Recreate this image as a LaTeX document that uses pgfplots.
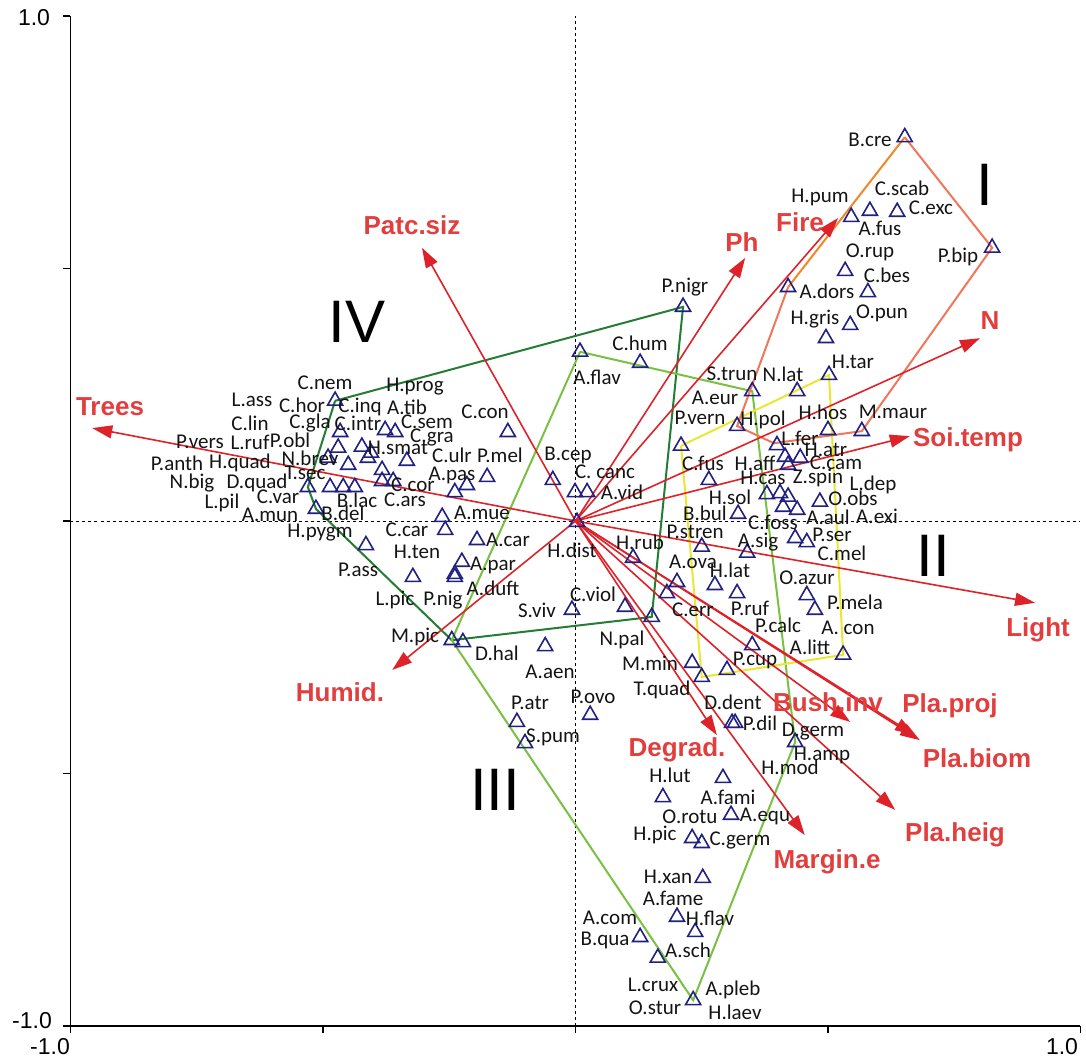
\documentclass[border=0pt]{standalone}
\usepackage{pgfplots}
\pgfplotsset{compat=1.18}
\usepackage{fontspec}
\setmainfont{Carlito}
\newfontfamily\arialf{Liberation Sans}
\usetikzlibrary{arrows.meta}
\definecolor{arrred}{RGB}{222,34,42}
\definecolor{labred}{RGB}{226,62,62}
\definecolor{navy}{RGB}{32,32,128}
\definecolor{dkgreen}{RGB}{36,125,52}
\definecolor{ltgreen}{RGB}{122,192,66}
\definecolor{yel}{RGB}{234,230,50}
\definecolor{orng}{RGB}{242,134,40}
\definecolor{salm}{RGB}{240,118,92}
\definecolor{txt}{RGB}{20,20,20}

\pgfplotstableread{
x y
0.652 0.760
0.546 0.602
0.583 0.614
0.637 0.612
0.825 0.541
0.534 0.495
0.579 0.453
0.421 0.463
0.544 0.388
0.496 0.362
0.502 0.289
0.439 0.257
0.350 0.257
0.320 0.188
0.209 0.149
0.500 0.180
0.567 0.178
0.399 0.150
0.415 0.127
0.445 0.125
0.421 0.111
0.264 0.081
0.379 0.053
0.405 0.055
0.421 0.048
0.484 0.038
0.411 0.028
0.439 0.022
0.322 0.014
0.250 -0.051
0.340 -0.063
0.435 -0.034
0.458 -0.042
0.276 -0.127
0.320 -0.143
0.458 -0.147
0.474 -0.176
0.350 -0.246
0.530 -0.265
0.300 -0.295
0.250 -0.309
0.231 -0.281
0.201 -0.121
0.181 -0.143
0.114 -0.073
0.098 -0.170
0.151 -0.190
-0.007 -0.176
0.003 -0.002
0.029 -0.384
-0.060 -0.248
-0.116 -0.398
-0.100 -0.440
0.310 -0.400
0.316 -0.400
0.435 -0.438
0.292 -0.509
0.173 -0.547
0.308 -0.582
0.231 -0.628
0.250 -0.638
0.252 -0.707
0.201 -0.784
0.237 -0.814
0.128 -0.824
0.163 -0.865
0.233 -0.949
0.213 0.424
0.009 0.335
0.128 0.313
-0.045 0.081
-0.001 0.057
0.023 0.057
-0.134 0.176
-0.175 0.087
-0.215 0.071
-0.239 0.057
-0.264 0.008
-0.258 -0.018
-0.195 -0.038
-0.225 -0.081
-0.239 -0.111
-0.239 -0.105
-0.322 -0.111
-0.415 -0.048
-0.245 -0.236
-0.223 -0.240
-0.476 0.238
-0.466 0.176
-0.470 0.145
-0.423 0.147
-0.411 0.125
-0.377 0.180
-0.357 0.176
-0.490 0.125
-0.450 0.111
-0.383 0.101
-0.334 0.119
-0.530 0.067
-0.486 0.067
-0.460 0.067
-0.437 0.067
-0.383 0.079
-0.361 0.079
-0.514 0.024
-0.405 0.135
}\species

\begin{document}
\begin{tikzpicture}
\useasboundingbox (-70.5pt,-36pt) rectangle (1015.5pt,1026pt);
\begin{axis}[
  at={(0pt,0pt)}, anchor=south west,
  width=1010pt, height=1010pt, scale only axis,
  xmin=-1, xmax=1, ymin=-1, ymax=1,
  axis x line=bottom, axis y line=left,
  axis line style={line width=1.8pt, -},
  xtick={-1,-0.5,0,0.5,1}, xticklabels={},
  ytick={-1,-0.5,0,0.5,1}, yticklabels={},
  tick align=outside, major tick length=7pt,
  tick style={line width=1.3pt, black},
  clip=false,
  arr/.style={arrred, line width=1.6pt, -{Triangle[length=20pt,width=13pt]}},
]
% zero lines
\addplot[black, line width=0.8pt, dash pattern=on 3pt off 3pt] coordinates {(0,-1) (0,1)};
\addplot[black, line width=0.8pt, dash pattern=on 3pt off 3pt] coordinates {(-1,0) (1,0)};
% group polygons
\addplot[dkgreen, line width=2pt] coordinates {(-0.476,0.238) (0.213,0.424) (0.151,-0.190) (-0.245,-0.236) (-0.514,0.024) (-0.530,0.067) (-0.476,0.238)};
\addplot[ltgreen, line width=2pt] coordinates {(0.009,0.335) (0.350,0.257) (0.435,-0.438) (0.233,-0.949) (-0.245,-0.236) (0.009,0.335)};
\addplot[yel, line width=2pt] coordinates {(0.209,0.149) (0.502,0.289) (0.530,-0.265) (0.250,-0.309) (0.209,0.149)};
\addplot[salm, line width=2pt] coordinates {(0.421,0.463) (0.320,0.188) (0.393,0.154) (0.567,0.178) (0.825,0.541) (0.652,0.760)};
\addplot[orng, line width=2pt] coordinates {(0.652,0.760) (0.421,0.463)};
% environmental arrows
\addplot[arr] coordinates {(0,0) (-0.957,0.184)};
\addplot[arr] coordinates {(0,0) (-0.304,0.541)};
\addplot[arr] coordinates {(0,0) (0.336,0.521)};
\addplot[arr] coordinates {(0,0) (0.520,0.600)};
\addplot[arr] coordinates {(0,0) (0.801,0.362)};
\addplot[arr] coordinates {(0,0) (0.662,0.168)};
\addplot[arr] coordinates {(0,0) (0.910,-0.162)};
\addplot[arr] coordinates {(0,0) (0.544,-0.398)};
\addplot[arr] coordinates {(0,0) (0.672,-0.424)};
\addplot[arr] coordinates {(0,0) (0.682,-0.434)};
\addplot[arr] coordinates {(0,0) (0.633,-0.572)};
\addplot[arr] coordinates {(0,0) (0.454,-0.622)};
\addplot[arr] coordinates {(0,0) (0.280,-0.424)};
\addplot[arr] coordinates {(0,0) (-0.363,-0.295)};
% species
\addplot[only marks, mark=triangle, mark size=8.7pt, mark options={navy, line width=1.6pt}] table[x=x,y=y] {\species};
\end{axis}

\begin{scope}[shift={(-70.5pt,1026pt)}, x=1pt, y=-1pt,
  sp/.style={text=txt, inner sep=0pt, font=\fontsize{21}{21}\selectfont},
  ev/.style={text=labred, inner sep=0pt, font=\arialf\bfseries\fontsize{26}{26}\selectfont},
  rn/.style={text=black, inner sep=0pt, font=\arialf\fontsize{60}{60}\selectfont},
  tl/.style={text=black, inner sep=0pt, font=\arialf\fontsize{23}{23}\selectfont}]
\newcommand\lb[3]{\node[sp] at (#1,#2) {#3};}
% tick labels
\node[tl] at (34,18) {1.0};
\node[tl] at (32,1021) {-1.0};
\node[tl] at (50,1047) {-1.0};
\node[tl] at (1062,1047) {1.0};
% species labels
\lb{870}{140}{B.cre}
\lb{820}{197}{H.pum}
\lb{902}{188}{C.scab}
\lb{931}{208}{C.exc}
\lb{880}{228}{A.fus}
\lb{958}{257}{P.bip}
\lb{870}{252}{O.rup}
\lb{887}{275}{C.bes}
\lb{827}{291}{A.dors}
\lb{815}{319}{H.gris}
\lb{882}{313}{O.pun}
\lb{853}{362}{H.tar}
\lb{783}{374}{N.lat}
\lb{732}{374}{S.trun}
\lb{715}{398}{A.eur}
\lb{700}{418}{P.vern}
\lb{763}{420}{H.pol}
\lb{823}{412}{H.hos}
\lb{893}{412}{M.maur}
\lb{800}{438}{L.fer}
\lb{826}{450}{H.atr}
\lb{836}{463}{C.cam}
\lb{703}{463}{C.fus}
\lb{755}{463}{H.aff}
\lb{763}{478}{H.cas}
\lb{818}{478}{Z.spin}
\lb{873}{485}{L.dep}
\lb{853}{498}{O.obs}
\lb{730}{497}{H.sol}
\lb{705}{513}{B.bul}
\lb{773}{522}{C.foss}
\lb{828}{517}{A.aul}
\lb{877}{516}{A.exi}
\lb{695}{532}{P.stren}
\lb{758}{542}{A.sig}
\lb{832}{535}{P.ser}
\lb{842}{553}{C.mel}
\lb{730}{570}{H.lat}
\lb{750}{608}{P.ruf}
\lb{807}{578}{O.azur}
\lb{855}{602}{P.mela}
\lb{848}{628}{A. con}
\lb{778}{625}{P.calc}
\lb{810}{647}{A.litt}
\lb{755}{660}{P.cup}
\lb{650}{663}{M.min}
\lb{662}{690}{T.quad}
\lb{733}{702}{D.dent}
\lb{760}{723}{P.dil}
\lb{813}{732}{D.germ}
\lb{822}{755}{H.amp}
\lb{790}{767}{H.mod}
\lb{670}{775}{H.lut}
\lb{728}{797}{A.fami}
\lb{690}{817}{O.rotu}
\lb{765}{816}{A.equ}
\lb{655}{835}{H.pic}
\lb{740}{840}{C.germ}
\lb{668}{877}{H.xan}
\lb{673}{898}{A.fame}
\lb{610}{918}{A.com}
\lb{710}{918}{H.flav}
\lb{605}{940}{B.qua}
\lb{688}{950}{A.sch}
\lb{653}{985}{L.crux}
\lb{733}{990}{A.pleb}
\lb{655}{1008}{O.stur}
\lb{735}{1012}{H.laev}
\lb{572}{550}{H.dist}
\lb{640}{542}{H.rub}
\lb{693}{562}{A.ova}
\lb{693}{610}{C.err}
\lb{593}{594}{C.viol}
\lb{537}{610}{S.viv}
\lb{622}{640}{N.pal}
\lb{593}{697}{P.ovo}
\lb{550}{672}{A.aen}
\lb{530}{703}{P.atr}
\lb{553}{737}{S.pum}
\lb{685}{287}{P.nigr}
\lb{597}{377}{A.flav}
\lb{640}{343}{C.hum}
\lb{568}{455}{B.cep}
\lb{605}{472}{C. canc}
\lb{622}{492}{A.vid}
\lb{485}{412}{C.con}
\lb{500}{455}{P.mel}
\lb{452}{455}{C.ulr}
\lb{452}{475}{A.pas}
\lb{482}{513}{A.mue}
\lb{508}{540}{A.car}
\lb{407}{530}{C.car}
\lb{417}{552}{H.ten}
\lb{493}{565}{A.par}
\lb{493}{588}{A.duft}
\lb{358}{570}{P.ass}
\lb{395}{600}{L.pic}
\lb{443}{600}{P.nig}
\lb{415}{637}{M.pic}
\lb{497}{653}{D.hal}
\lb{320}{533}{H.pygm}
\lb{325}{383}{C.nem}
\lb{415}{387}{H.prog}
\lb{302}{405}{C.hor}
\lb{360}{407}{C.inq}
\lb{407}{407}{A.tib}
\lb{310}{423}{C.gla}
\lb{358}{423}{C.intr}
\lb{427}{422}{C.sem}
\lb{432}{437}{C.gra}
\lb{398}{448}{H.smat}
\lb{310}{458}{N.brev}
\lb{305}{473}{T.sec}
\lb{413}{485}{C.cor}
\lb{405}{500}{C.ars}
\lb{357}{500}{B.lac}
\lb{343}{513}{B.del}
\lb{252}{400}{L.ass}
\lb{250}{423}{C.lin}
\lb{200}{442}{P.vers}
\lb{250}{442}{L.ruf}
\lb{290}{440}{P.obl}
\lb{177}{463}{P.anth}
\lb{240}{463}{H.quad}
\lb{192}{483}{N.big}
\lb{257}{483}{D.quad}
\lb{278}{497}{C.var}
\lb{222}{503}{L.pil}
\lb{270}{515}{A.mun}
% environmental labels
\node[ev] at (110,407) {Trees};
\node[ev] at (412,225) {Patc.siz};
\node[ev] at (742,242) {Ph};
\node[ev] at (800,222) {Fire};
\node[ev] at (990,321) {N};
\node[ev] at (968,440) {Soi.temp};
\node[ev] at (1038,630) {Light};
\node[ev] at (828,702) {Bush.inv};
\node[ev] at (950,706) {Pla.proj};
\node[ev] at (977,758) {Pla.biom};
\node[ev] at (955,835) {Pla.heig};
\node[ev] at (827,862) {Margin.e};
\node[ev] at (677,750) {Degrad.};
\node[ev] at (340,692) {Humid.};
% group numerals
\node[rn] at (985,185) {I};
\node[rn] at (933,556) {II};
\node[rn] at (495,790) {III};
\node[rn] at (357,322) {IV};
\end{scope}
\end{tikzpicture}
\end{document}
